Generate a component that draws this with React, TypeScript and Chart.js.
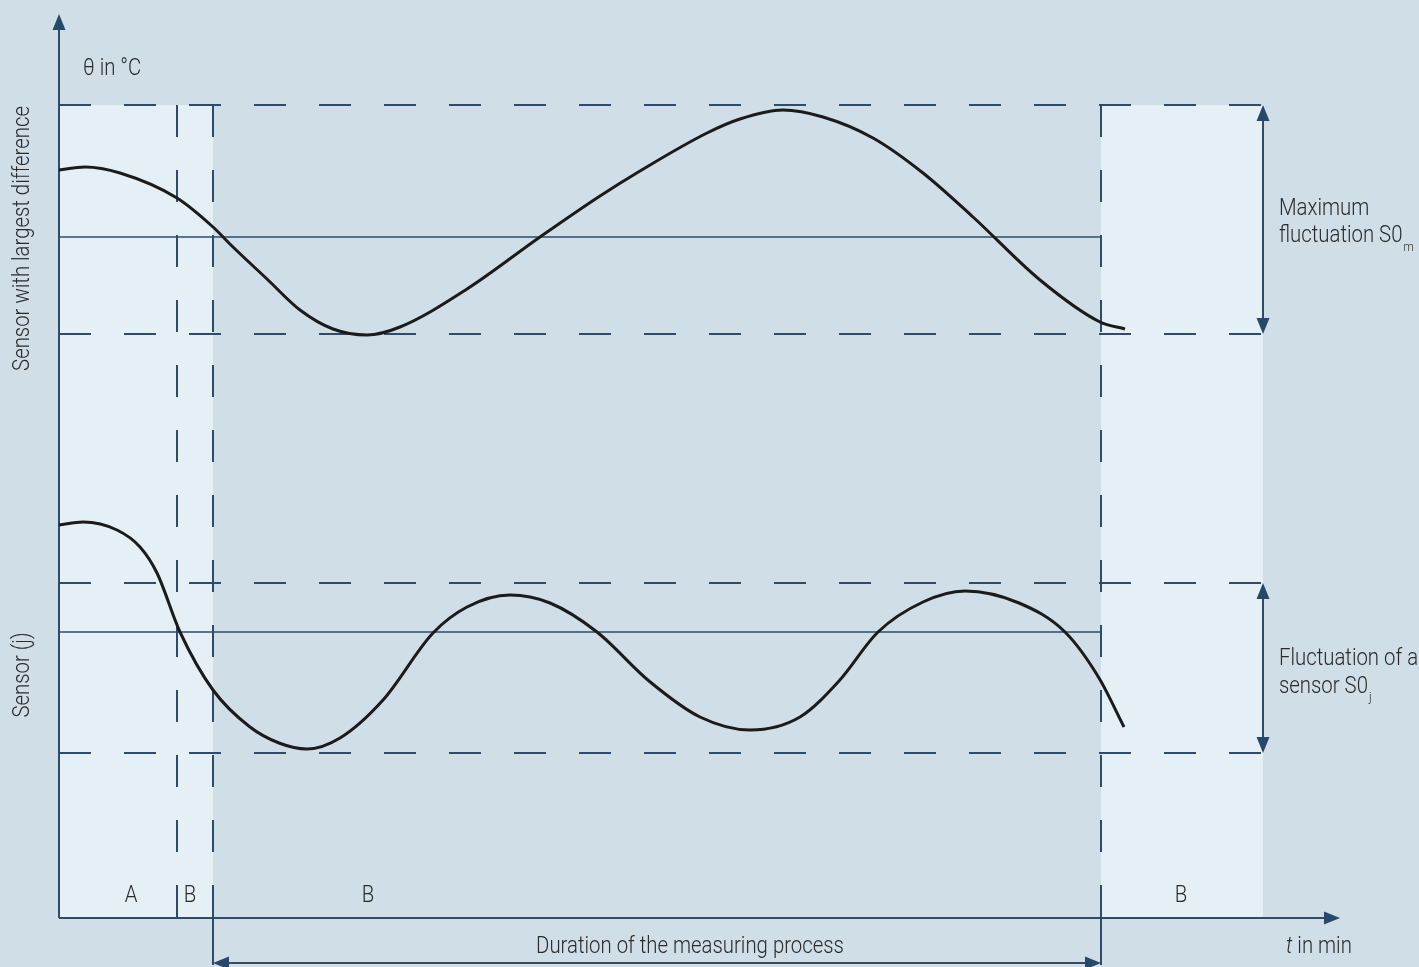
import React, { useEffect, useRef } from "react";
import { Chart, registerables } from "chart.js";

Chart.register(...registerables);

// time axis (t in min, arbitrary units) and temperature (θ in °C, arbitrary units)
const topTime = [0, 2.6, 6.1, 11.8, 15.4, 17.4, 20.8, 24.1, 27.4, 30.8, 34.1, 40.8, 48.1, 54.1, 58.1, 64.8, 68.1, 72.4, 76.4, 81.4, 86.4, 91.4, 98.1, 104.1, 106.6];
const topTemp = [74.8, 75.1, 74.5, 72.0, 69.1, 67.1, 63.9, 60.8, 58.9, 58.3, 59.1, 62.9, 68.1, 72.2, 74.7, 78.5, 79.9, 80.8, 80.1, 78.0, 74.5, 70.1, 63.8, 59.6, 58.9];

const sensorTime = [0, 2.4, 5.8, 8.1, 9.8, 12.1, 15.4, 19.1, 22.0, 24.8, 28.1, 32.4, 37.4, 40.8, 45.1, 49.1, 53.8, 59.0, 64.1, 69.1, 74.1, 78.0, 81.9, 86.4, 90.6, 96.0, 100.6, 104.0, 106.5];
const sensorTemp = [39.3, 39.6, 38.8, 37.1, 34.5, 28.6, 22.8, 19.1, 17.5, 16.9, 18.0, 21.8, 28.5, 31.1, 32.3, 31.5, 28.6, 23.7, 20.1, 18.8, 20.1, 23.7, 28.6, 31.6, 32.7, 31.5, 28.6, 24.0, 19.1];

// band limits [low, high] and mean lines
const maxFluctBand = [58.4, 81.3];
const sensorBand = [16.5, 33.5];
const meanLines = [68.1, 28.6];

// phase boundaries on t: start, A|B, measuring start, measuring end, end of last B
const phaseBounds = [0, 11.8, 15.4, 104.2, 120.4];
const phaseLabels = ["A", "B", "B", "B"];
const phaseLabelTimes = [7.2, 13.1, 30.9, 112.2];

const T_MAX = 128.1;
const Y_MAX = 90.4;

const BG = "#cfdee7";
const PANEL = "#e4f0f5";
const LINE = "#2f4b68";
const HEAD = "#284869";
const TEXT = "#2a2a2a";
const FONT = 'Roboto, "Liberation Sans Narrow", sans-serif';
const SX = 0.885; // condensed look

function txt(
  ctx: CanvasRenderingContext2D,
  s: string,
  x: number,
  y: number,
  align: "left" | "center",
  size = 23,
  italic = false
): number {
  ctx.save();
  ctx.font = `${italic ? "italic " : ""}300 ${size}px ${FONT}`;
  ctx.textBaseline = "middle";
  ctx.textAlign = "left";
  ctx.fillStyle = TEXT;
  const w = ctx.measureText(s).width * SX;
  const left = align === "center" ? x - w / 2 : x;
  ctx.translate(left, y);
  ctx.scale(SX, 1);
  ctx.fillText(s, 0, 0);
  ctx.restore();
  return w;
}

function arrowHead(ctx: CanvasRenderingContext2D, x: number, y: number, dir: "up" | "down" | "left" | "right") {
  const L = 16, W = 6.5;
  ctx.beginPath();
  if (dir === "up") { ctx.moveTo(x, y); ctx.lineTo(x - W, y + L); ctx.lineTo(x + W, y + L); }
  if (dir === "down") { ctx.moveTo(x, y); ctx.lineTo(x - W, y - L); ctx.lineTo(x + W, y - L); }
  if (dir === "right") { ctx.moveTo(x, y); ctx.lineTo(x - L, y - W); ctx.lineTo(x - L, y + W); }
  if (dir === "left") { ctx.moveTo(x, y); ctx.lineTo(x + L, y - W); ctx.lineTo(x + L, y + W); }
  ctx.closePath();
  ctx.fillStyle = HEAD;
  ctx.fill();
}

function line(ctx: CanvasRenderingContext2D, x1: number, y1: number, x2: number, y2: number, width: number, dash: number[] = []) {
  ctx.save();
  ctx.setLineDash(dash);
  ctx.lineDashOffset = 0;
  ctx.strokeStyle = LINE;
  ctx.lineWidth = width;
  ctx.beginPath();
  ctx.moveTo(x1, y1);
  ctx.lineTo(x2, y2);
  ctx.stroke();
  ctx.restore();
}

const diagramPlugin = {
  id: "diagram",
  beforeDraw(chart: any) {
    const { ctx, width, height } = chart;
    const X = (v: number) => chart.scales.x.getPixelForValue(v);
    const Y = (v: number) => chart.scales.y.getPixelForValue(v);
    ctx.save();
    ctx.fillStyle = BG;
    ctx.fillRect(0, 0, width, height);
    ctx.fillStyle = PANEL;
    const top = Y(maxFluctBand[1]);
    const bottom = Y(0);
    ctx.fillRect(X(phaseBounds[0]), top, X(phaseBounds[2]) - X(phaseBounds[0]), bottom - top);
    ctx.fillRect(X(phaseBounds[3]), top, X(phaseBounds[4]) - X(phaseBounds[3]), bottom - top);
    ctx.restore();
  },
  beforeDatasetsDraw(chart: any) {
    const { ctx } = chart;
    const X = (v: number) => chart.scales.x.getPixelForValue(v);
    const Y = (v: number) => chart.scales.y.getPixelForValue(v);
    const dash = [32, 33];
    const x0 = X(0);
    const xEnd = X(phaseBounds[4]);
    const xMeasEnd = X(phaseBounds[3]);
    const y0 = Y(0);
    const yTop = Y(maxFluctBand[1]);
    const yArrow = y0 + 45;
    [maxFluctBand[1], maxFluctBand[0], sensorBand[1], sensorBand[0]].forEach((v) => {
      line(ctx, x0, Y(v), xEnd, Y(v), 2, dash);
    });
    meanLines.forEach((v) => line(ctx, x0, Y(v), xMeasEnd, Y(v), 1.6));
    [phaseBounds[1], phaseBounds[2], phaseBounds[3]].forEach((t, i) => {
      line(ctx, X(t), yTop, X(t), y0, 2, dash);
      if (i > 0) line(ctx, X(t), y0 - 31, X(t), yArrow + 2, 2);
    });
    line(ctx, x0, y0, x0, chart.chartArea.top + 14, 2);
    line(ctx, x0, y0, chart.chartArea.right - 14, y0, 2);
  },
  afterDatasetsDraw(chart: any) {
    const { ctx } = chart;
    const X = (v: number) => chart.scales.x.getPixelForValue(v);
    const Y = (v: number) => chart.scales.y.getPixelForValue(v);
    const x0 = X(0);
    const y0 = Y(0);
    const { top, right } = chart.chartArea;
    arrowHead(ctx, x0, top, "up");
    arrowHead(ctx, right, y0, "right");

    const xa = X(phaseBounds[4]);
    [maxFluctBand, sensorBand].forEach((b) => {
      const yHi = Y(b[1]);
      const yLo = Y(b[0]);
      line(ctx, xa, yHi + 10, xa, yLo - 10, 2);
      arrowHead(ctx, xa, yHi, "up");
      arrowHead(ctx, xa, yLo, "down");
    });

    const yArrow = y0 + 45;
    const xs = X(phaseBounds[2]);
    const xe = X(phaseBounds[3]);
    line(ctx, xs + 10, yArrow, xe - 10, yArrow, 2);
    arrowHead(ctx, xs, yArrow, "left");
    arrowHead(ctx, xe, yArrow, "right");

    phaseLabels.forEach((lab, i) => txt(ctx, lab, X(phaseLabelTimes[i]), y0 - 22, "center"));
    txt(ctx, "Duration of the measuring process", (xs + xe) / 2 + 33, y0 + 29, "center");

    txt(ctx, "θ in °C", x0 + 24, 69, "left");

    const tx = X(120.4) + 23;
    const tw = txt(ctx, "t", tx, y0 + 29, "left", 23, true);
    txt(ctx, " in min", tx + tw, y0 + 29, "left");

    const lx = xa + 16;
    const midTop = (Y(maxFluctBand[0]) + Y(maxFluctBand[1])) / 2;
    const midSen = (Y(sensorBand[0]) + Y(sensorBand[1])) / 2;
    txt(ctx, "Maximum", lx, midTop - 10, "left");
    let w = txt(ctx, "fluctuation S0", lx, midTop + 17, "left");
    txt(ctx, "m", lx + w + 1, midTop + 28, "left", 13);
    txt(ctx, "Fluctuation of a", lx, midSen - 9, "left");
    w = txt(ctx, "sensor S0", lx, midSen + 19, "left");
    txt(ctx, "j", lx + w + 1, midSen + 30, "left", 13);

    ctx.save();
    ctx.translate(23, (Y(maxFluctBand[1]) + Y(maxFluctBand[0])) / 2 + 19);
    ctx.rotate(-Math.PI / 2);
    txt(ctx, "Sensor with largest difference", 0, 0, "center");
    ctx.restore();
    ctx.save();
    ctx.translate(23, Y(meanLines[1]) + 43);
    ctx.rotate(-Math.PI / 2);
    txt(ctx, "Sensor (j)", 0, 0, "center");
    ctx.restore();
  },
};

export default function App() {
  const ref = useRef<HTMLCanvasElement>(null);
  useEffect(() => {
    if (!ref.current) return;
    const chart = new Chart(ref.current, {
      type: "line",
      data: {
        datasets: [
          {
            label: "Sensor with largest difference",
            data: topTime.map((t, i) => ({ x: t, y: topTemp[i] })),
            borderColor: "#1b1b1b",
            borderWidth: 3,
            pointRadius: 0,
            cubicInterpolationMode: "monotone",
            fill: false,
            clip: false as any,
          },
          {
            label: "Sensor (j)",
            data: sensorTime.map((t, i) => ({ x: t, y: sensorTemp[i] })),
            borderColor: "#1b1b1b",
            borderWidth: 3,
            pointRadius: 0,
            cubicInterpolationMode: "monotone",
            fill: false,
            clip: false as any,
          },
        ],
      },
      options: {
        animation: false,
        responsive: false,
        devicePixelRatio: 1,
        layout: { padding: { left: 59, right: 79, top: 14, bottom: 49 } },
        scales: {
          x: { type: "linear", min: 0, max: T_MAX, display: false },
          y: { type: "linear", min: 0, max: Y_MAX, display: false },
        },
        plugins: { legend: { display: false }, tooltip: { enabled: false } },
      },
      plugins: [diagramPlugin],
    });
    return () => chart.destroy();
  }, []);
  return (
    <div style={{ position: "fixed", left: 0, top: 0, width: 1419, height: 967 }}>
      <canvas ref={ref} width={1419} height={967} style={{ width: 1419, height: 967, display: "block" }} />
    </div>
  );
}
